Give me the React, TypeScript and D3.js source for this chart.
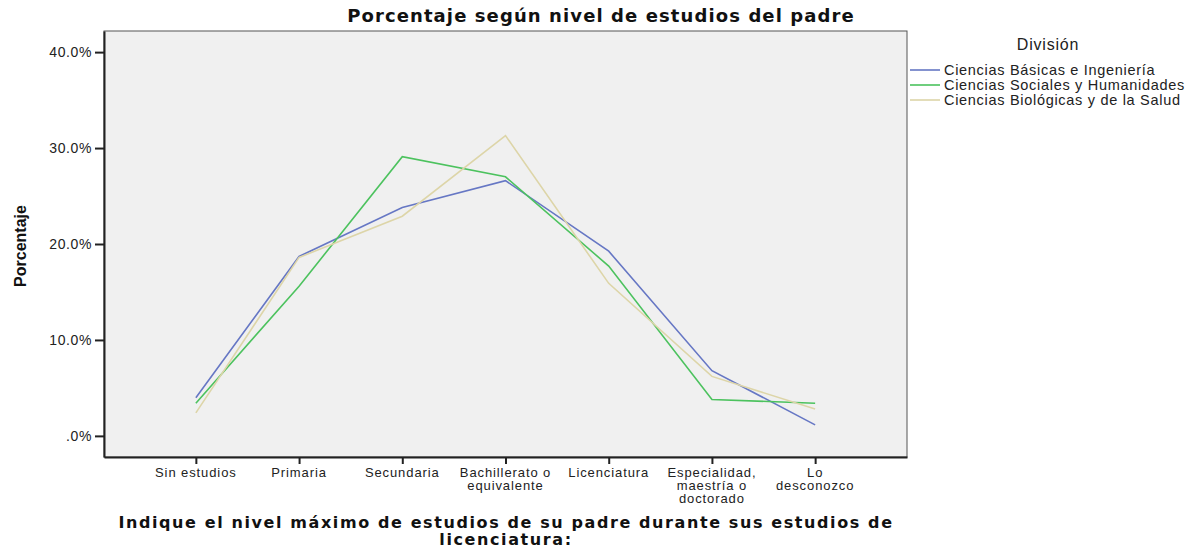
import React, { useEffect, useRef } from "react";
import * as d3 from "d3";

const categories = [
  "Sin estudios",
  "Primaria",
  "Secundaria",
  "Bachillerato o equivalente",
  "Licenciatura",
  "Especialidad, maestría o doctorado",
  "Lo desconozco",
];
// tick labels as wrapped in the original
const categoryLines = [
  ["Sin estudios"],
  ["Primaria"],
  ["Secundaria"],
  ["Bachillerato o", "equivalente"],
  ["Licenciatura"],
  ["Especialidad,", "maestría o", "doctorado"],
  ["Lo", "desconozco"],
];

const seriesNames = [
  "Ciencias Básicas e Ingeniería",
  "Ciencias Sociales y Humanidades",
  "Ciencias Biológicas y de la Salud",
];
const basicasValues = [3.97, 18.7, 23.8, 26.6, 19.25, 6.8, 1.15];
const socialesValues = [3.4, 15.6, 29.1, 27.0, 17.7, 3.8, 3.4];
const biologicasValues = [2.4, 18.6, 22.9, 31.3, 15.9, 6.2, 2.8];
const seriesColors = ["#6677c4", "#4cc25e", "#ddd5a8"];

const yTicks = [0, 10, 20, 30, 40];
const yTickLabels = [".0%", "10.0%", "20.0%", "30.0%", "40.0%"];

const App = () => {
  const ref = useRef<SVGSVGElement | null>(null);

  useEffect(() => {
    const width = 1196;
    const height = 550;
    const plot = { left: 104, top: 31, right: 907, bottom: 457 };
    const font = "Arial, 'Liberation Sans', sans-serif";
    const boldFont = "'DejaVu Sans', Verdana, sans-serif";

    const svg = d3.select(ref.current);
    svg.selectAll("*").remove();
    svg.attr("width", width).attr("height", height);

    svg.append("rect").attr("width", width).attr("height", height).attr("fill", "#ffffff");

    // scales
    const x = d3
      .scalePoint<string>()
      .domain(categories)
      .range([plot.left, plot.right])
      .padding(0.89);
    const y = d3
      .scaleLinear()
      .domain([-2.2, 42.2])
      .range([plot.bottom, plot.top]);

    // plot background
    svg
      .append("rect")
      .attr("x", plot.left)
      .attr("y", plot.top)
      .attr("width", plot.right - plot.left)
      .attr("height", plot.bottom - plot.top)
      .attr("fill", "#f0f0f0")
      .attr("stroke", "#555")
      .attr("stroke-width", 1);

    // y axis
    const yAxis = svg
      .append("g")
      .attr("transform", `translate(${plot.left},0)`)
      .call(
        d3
          .axisLeft(y)
          .tickValues(yTicks)
          .tickSizeInner(9)
          .tickSizeOuter(0)
          .tickPadding(3)
          .tickFormat((d, i) => yTickLabels[i])
      );
    yAxis.select(".domain").attr("stroke", "#222").attr("stroke-width", 2);
    yAxis.selectAll(".tick line").attr("stroke", "#222").attr("stroke-width", 2);
    yAxis
      .selectAll(".tick text")
      .attr("fill", "#222")
      .style("font-family", font)
      .style("font-size", "14px")
      .style("letter-spacing", "0.6px");

    // x axis
    const xAxis = svg
      .append("g")
      .attr("transform", `translate(0,${plot.bottom})`)
      .call(d3.axisBottom(x).tickSizeInner(7).tickSizeOuter(0).tickFormat(() => ""));
    xAxis.select(".domain").attr("stroke", "#222").attr("stroke-width", 2);
    xAxis.selectAll(".tick line").attr("stroke", "#222").attr("stroke-width", 2);
    xAxis.selectAll(".tick text").remove();

    categories.forEach((c, i) => {
      const t = svg
        .append("text")
        .attr("x", x(c)!)
        .attr("y", plot.bottom + 20)
        .attr("text-anchor", "middle")
        .attr("fill", "#222")
        .style("font-family", font)
        .style("font-size", "13px")
        .style("letter-spacing", "0.9px");
      categoryLines[i].forEach((line, j) => {
        t.append("tspan")
          .attr("x", x(c)!)
          .attr("dy", j === 0 ? 0 : 13)
          .text(line);
      });
    });

    // lines
    const allSeries = [basicasValues, socialesValues, biologicasValues];
    const line = d3
      .line<number>()
      .x((d, i) => x(categories[i])!)
      .y((d) => y(d));
    allSeries.forEach((vals, k) => {
      svg
        .append("path")
        .datum(vals)
        .attr("fill", "none")
        .attr("stroke", seriesColors[k])
        .attr("stroke-width", 1.6)
        .attr("d", line);
    });

    // title
    svg
      .append("text")
      .attr("x", 601)
      .attr("y", 22)
      .attr("text-anchor", "middle")
      .attr("fill", "#111")
      .style("font-family", boldFont)
      .style("font-size", "18px")
      .style("font-weight", "bold")
      .style("letter-spacing", "1.1px")
      .text("Porcentaje según nivel de estudios del padre");

    // y label
    svg
      .append("text")
      .attr("transform", `translate(26,${(plot.top + plot.bottom) / 2 + 2}) rotate(-90)`)
      .attr("text-anchor", "middle")
      .attr("fill", "#111")
      .style("font-family", "'Liberation Sans Narrow', Arial, sans-serif")
      .style("font-size", "16px")
      .style("font-weight", "bold")
      .text("Porcentaje");

    // x label
    const xl = svg
      .append("text")
      .attr("text-anchor", "middle")
      .attr("fill", "#111")
      .style("font-family", boldFont)
      .style("font-size", "16px")
      .style("font-weight", "bold")
      .style("letter-spacing", "1.6px");
    xl.append("tspan").attr("x", 506).attr("y", 528).text(
      "Indique el nivel máximo de estudios de su padre durante sus estudios de"
    );
    xl.append("tspan").attr("x", 506).attr("y", 545).text("licenciatura:");

    // legend
    svg
      .append("text")
      .attr("x", 1048)
      .attr("y", 50)
      .attr("text-anchor", "middle")
      .attr("fill", "#222")
      .style("font-family", font)
      .style("font-size", "16px")
      .style("letter-spacing", "0.8px")
      .text("División");

    seriesNames.forEach((name, k) => {
      const ly = 70 + k * 15;
      svg
        .append("line")
        .attr("x1", 910)
        .attr("x2", 940)
        .attr("y1", ly)
        .attr("y2", ly)
        .attr("stroke", seriesColors[k])
        .attr("stroke-width", 1.6);
      svg
        .append("text")
        .attr("x", 944)
        .attr("y", ly + 5)
        .attr("fill", "#222")
        .style("font-family", font)
        .style("font-size", "14.5px")
        .style("letter-spacing", "0.7px")
        .text(name);
    });
  }, []);

  return <svg ref={ref} style={{ position: "absolute", left: 0, top: 0 }} />;
};

export default App;
